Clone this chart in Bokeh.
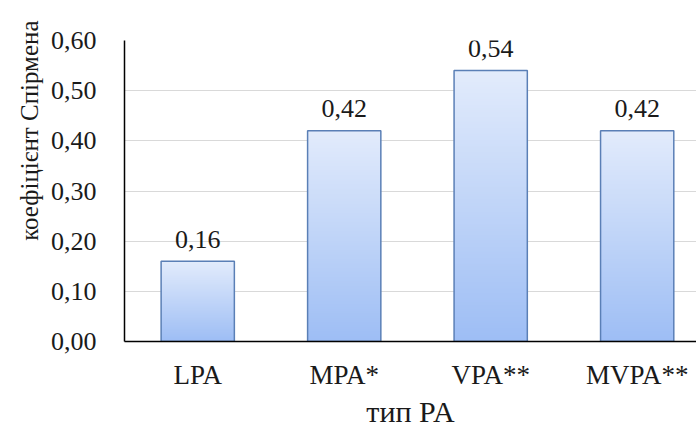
import numpy as np
from bokeh.plotting import figure
from bokeh.models import Range1d, FixedTicker, CustomJSTickFormatter, Title
from bokeh.core.properties import value
from bokeh.embed import file_html
from bokeh.resources import INLINE

# Spearman coefficient by physical-activity type
categories = ["LPA", "MPA*", "VPA**", "MVPA**"]
values = [0.16, 0.42, 0.54, 0.42]
value_labels = ["0,16", "0,42", "0,54", "0,42"]
y_ticks = [0.0, 0.1, 0.2, 0.3, 0.4, 0.5, 0.6]

FONT = "Liberation Serif"
x_pos = [i + 0.5 for i in range(len(categories))]
bar_w = 0.5

p = figure(width=696, height=432, output_backend="svg", toolbar_location=None,
           x_range=Range1d(0, 3.905), y_range=Range1d(0, 0.6),
           min_border_left=124, min_border_right=0, min_border_top=40, min_border_bottom=91)
p.outline_line_color = None
p.background_fill_color = "white"
p.border_fill_color = "white"

# vertical gradient fill for each bar (light top, deeper blue at the bottom)
n = 256
t = np.linspace(0, 1, n)[:, None]  # 0 at bottom, 1 at top
bottom = np.array([158, 190, 245])
top = np.array([227, 236, 252])
rgb = (bottom + (top - bottom) * t).astype(np.uint32)
grad = (255 << 24) | (rgb[:, 2] << 16) | (rgb[:, 1] << 8) | rgb[:, 0]
grad = grad.reshape(n, 1).astype(np.uint32)

for x, v in zip(x_pos, values):
    p.image_rgba(image=[grad], x=x - bar_w / 2, y=0, dw=bar_w, dh=v)

p.vbar(x=x_pos, top=values, width=bar_w, bottom=0, fill_alpha=0,
       line_color="#5a7fb6", line_width=1.5)

p.text(x=x_pos, y=values, text=value_labels, text_align="center",
       text_baseline="alphabetic", y_offset=-22,
       text_font=value(FONT), text_font_size="26px", text_color="#1a1a1a")

# grid
p.xgrid.grid_line_color = None
p.ygrid.grid_line_color = "#d9d9d9"
p.ygrid.grid_line_width = 1.2
p.ygrid.ticker = FixedTicker(ticks=y_ticks)

# y axis
p.yaxis.ticker = FixedTicker(ticks=y_ticks)
p.yaxis.formatter = CustomJSTickFormatter(code="return tick.toFixed(2).replace('.', ',');")
p.yaxis.axis_line_color = "black"
p.yaxis.axis_line_width = 1.5
p.yaxis.major_tick_out = 0
p.yaxis.major_tick_in = 0
p.yaxis.minor_tick_out = 0
p.yaxis.minor_tick_in = 0
p.yaxis.major_label_standoff = 28
p.yaxis.major_label_text_font = FONT
p.yaxis.major_label_text_font_size = "26px"
p.yaxis.major_label_text_color = "#1a1a1a"

# x axis
p.xaxis.ticker = FixedTicker(ticks=x_pos)
p.xaxis.major_label_overrides = {x: c for x, c in zip(x_pos, categories)}
p.xaxis.axis_line_color = "black"
p.xaxis.axis_line_width = 1.5
p.xaxis.major_tick_out = 0
p.xaxis.major_tick_in = 0
p.xaxis.minor_tick_out = 0
p.xaxis.minor_tick_in = 0
p.xaxis.major_label_standoff = 18
p.xaxis.major_label_text_font = FONT
p.xaxis.major_label_text_font_size = "27px"
p.xaxis.major_label_text_color = "#1a1a1a"
p.xaxis.axis_label = "тип PA"
p.xaxis.axis_label_text_font = FONT
p.xaxis.axis_label_text_font_size = "30px"
p.xaxis.axis_label_text_font_style = "normal"
p.xaxis.axis_label_text_color = "#1a1a1a"
p.xaxis.axis_label_standoff = 2

# y axis title
ytitle = Title(text="коефіцієнт Спірмена", align="right", offset=-20,
               text_font=FONT, text_font_size="25px", text_font_style="normal",
               text_color="#1a1a1a")
p.add_layout(ytitle, "left")

open("out.html", "w").write(file_html(p, INLINE))
